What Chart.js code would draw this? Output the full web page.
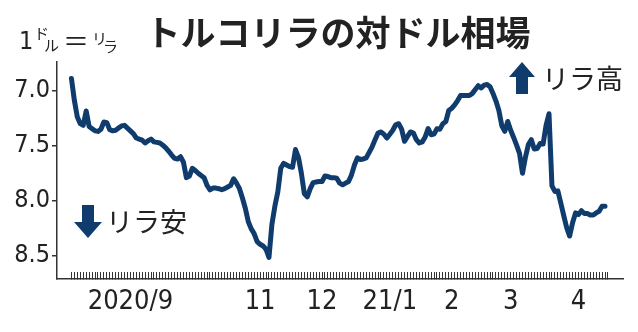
<!DOCTYPE html>
<html lang="ja">
<head>
<meta charset="utf-8">
<script src="https://cdn.jsdelivr.net/npm/chart.js@4/dist/chart.umd.min.js"></script>
<style>
  html, body { margin: 0; padding: 0; background: #fff; }
</style>
</head>
<body>
<canvas id="lira-chart" width="638" height="332"></canvas>
<script>
// USD/TRY, one value per trading day (Aug 2020 - Apr 2021)
const rate = [
  6.89, 7.09, 7.24, 7.30, 7.315, 7.185, 7.325, 7.345, 7.365, 7.37,
  7.35, 7.285, 7.29, 7.355, 7.365, 7.36, 7.34, 7.32, 7.315, 7.34,
  7.365, 7.39, 7.43, 7.44, 7.45, 7.475, 7.455, 7.44, 7.465, 7.47,
  7.475, 7.495, 7.52, 7.55, 7.585, 7.615, 7.62, 7.60, 7.65, 7.79,
  7.775, 7.705, 7.725, 7.75, 7.77, 7.79, 7.86, 7.90, 7.885, 7.885,
  7.89, 7.90, 7.89, 7.875, 7.86, 7.80, 7.84, 7.89, 7.975, 8.07,
  8.19, 8.255, 8.30, 8.37, 8.395, 8.41, 8.44, 8.515, 8.215, 8.05,
  7.92, 7.705, 7.66, 7.675, 7.69, 7.695, 7.535, 7.605, 7.75, 7.935,
  7.965, 7.89, 7.835, 7.83, 7.825, 7.825, 7.775, 7.78, 7.79, 7.79,
  7.795, 7.84, 7.855, 7.84, 7.825, 7.765, 7.675, 7.61, 7.625, 7.62,
  7.61, 7.56, 7.51, 7.445, 7.385, 7.375, 7.395, 7.43, 7.395, 7.36,
  7.31, 7.30, 7.35, 7.46, 7.415, 7.375, 7.385, 7.445, 7.475, 7.465,
  7.42, 7.345, 7.40, 7.395, 7.345, 7.35, 7.30, 7.28, 7.18, 7.16,
  7.13, 7.09, 7.045, 7.045, 7.045, 7.045, 7.025, 6.99, 6.955, 6.975,
  6.95, 6.945, 6.965, 7.025, 7.095, 7.18, 7.32, 7.37, 7.28, 7.36,
  7.425, 7.495, 7.57, 7.75, 7.605, 7.49, 7.445, 7.53, 7.525, 7.48,
  7.485, 7.315, 7.21, 7.865, 7.915, 7.91, 8.02, 8.135, 8.245, 8.32,
  8.20, 8.11, 8.125, 8.09, 8.115, 8.115, 8.13, 8.13, 8.11, 8.095,
  8.05, 8.05
];

// month labels and the trading-day index they sit on
const monthLabels = ['2020/9', '11', '12', '21/1', '2', '3', '4'];
const monthPos = [20, 64, 85, 108, 129, 149, 172];

const yTicks = [7.0, 7.5, 8.0, 8.5];
const dayTicks = Array.from({ length: 183 }, (_, i) => i);

const titleText = 'トルコリラの対ドル相場';
const navy = '#0f3c6c';
const ink = '#222';
const numFont = "'Liberation Sans Narrow', 'DejaVu Sans Condensed', sans-serif";
const jpFont = "'Noto Sans CJK JP', sans-serif";

const notes = {
  id: 'notes',
  afterDraw(chart) {
    const ctx = chart.ctx;
    ctx.save();
    ctx.fillStyle = ink;
    ctx.textBaseline = 'middle';

    // title
    ctx.textAlign = 'center';
    ctx.font = 'bold 35px ' + jpFont;
    ctx.fillText(titleText, 338, 33);

    // unit: 1ドル＝リラ
    ctx.textAlign = 'left';
    ctx.font = '25px ' + numFont;
    ctx.fillText('1', 19, 42);
    ctx.font = '15px ' + jpFont;
    ctx.fillText('ド', 34, 33);
    ctx.fillText('ル', 44, 45);
    ctx.font = '26px ' + jpFont;
    ctx.fillText('＝', 63, 41);
    ctx.font = '15px ' + jpFont;
    ctx.fillText('リ', 92, 38);
    ctx.fillText('ラ', 103, 46);

    // arrows
    ctx.fillStyle = navy;
    ctx.beginPath();
    ctx.moveTo(522, 62); ctx.lineTo(535, 77); ctx.lineTo(528, 77); ctx.lineTo(528, 94);
    ctx.lineTo(516, 94); ctx.lineTo(516, 77); ctx.lineTo(509, 77); ctx.closePath();
    ctx.fill();
    ctx.beginPath();
    ctx.moveTo(88, 238); ctx.lineTo(74, 222); ctx.lineTo(82, 222); ctx.lineTo(82, 205);
    ctx.lineTo(94, 205); ctx.lineTo(94, 222); ctx.lineTo(102, 222); ctx.closePath();
    ctx.fill();

    ctx.fillStyle = ink;
    ctx.font = '27px ' + jpFont;
    ctx.fillText('リラ高', 542, 79);
    ctx.fillText('リラ安', 106, 222);
    ctx.restore();
  }
};

new Chart(document.getElementById('lira-chart'), {
  type: 'line',
  data: {
    datasets: [{
      data: rate.map((v, i) => ({ x: i, y: v })),
      borderColor: navy,
      borderWidth: 5,
      borderJoinStyle: 'round',
      borderCapStyle: 'round',
      pointRadius: 0,
      tension: 0,
    }],
  },
  options: {
    responsive: false,
    animation: false,
    layout: { padding: { top: 62, right: 15, bottom: 0, left: 0 } },
    plugins: { legend: { display: false }, tooltip: { enabled: false } },
    scales: {
      x: {
        type: 'linear',
        min: -4.9,
        max: 187.1,
        afterBuildTicks: (s) => { s.ticks = dayTicks.map((v) => ({ value: v })); },
        afterFit: (s) => { s.height = 53; },
        border: { color: '#333', width: 1.5 },
        grid: { drawOnChartArea: false, tickLength: -7, color: '#333', lineWidth: 1 },
        ticks: {
          autoSkip: false,
          maxRotation: 0,
          padding: 14,
          color: ink,
          font: { family: numFont, size: 27 },
          callback: (v) => {
            const k = monthPos.indexOf(v);
            return k < 0 ? '' : monthLabels[k];
          },
        },
      },
      y: {
        reverse: true,
        min: 6.74,
        max: 8.71,
        afterBuildTicks: (s) => { s.ticks = yTicks.map((v) => ({ value: v })); },
        afterFit: (s) => { s.width = 57; },
        border: { color: '#333', width: 1.5 },
        grid: { drawOnChartArea: false, tickLength: 5, color: '#333', lineWidth: 1.5 },
        ticks: {
          padding: 2,
          color: ink,
          font: { family: numFont, size: 25 },
          callback: (v) => v.toFixed(1),
        },
      },
    },
  },
  plugins: [notes],
});
</script>
</body>
</html>
